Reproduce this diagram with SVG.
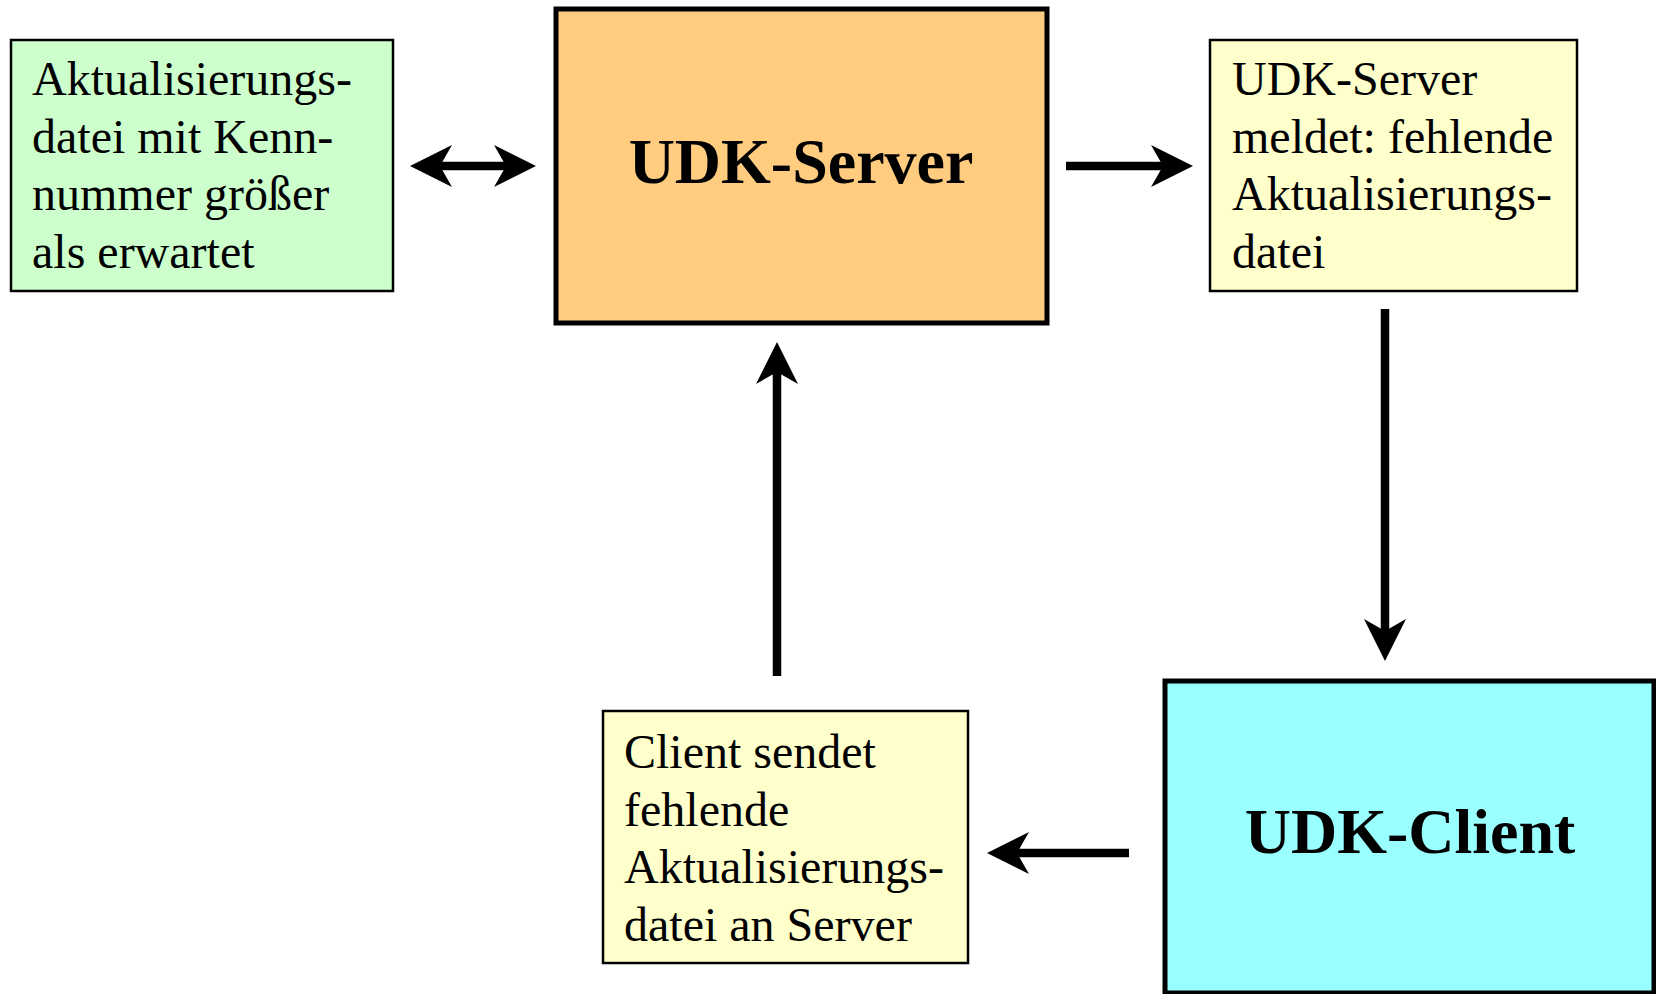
<svg xmlns="http://www.w3.org/2000/svg" width="1656" height="994" viewBox="0 0 1656 994">
<style>
.box{stroke:#000;stroke-width:2.5}
.big{stroke:#000;stroke-width:5}
.t{font-family:"Liberation Serif","Times New Roman",serif;font-size:48px;fill:#000}
.b{font-family:"Liberation Serif","Times New Roman",serif;font-size:64px;font-weight:bold;fill:#000;text-anchor:middle}
.c{stroke:#000;stroke-width:8.5;fill:none}
</style>
<defs>
<marker id="ah" markerUnits="userSpaceOnUse" viewBox="0 -22 42 44" markerWidth="42" markerHeight="44" refX="12" refY="0" orient="auto-start-reverse">
<path d="M0,-21 L42,0 L0,21 L12,0 Z" fill="#000"/>
</marker>
</defs>
<rect width="1656" height="994" fill="#fff"/>
<g id="node-green">
<rect class="box" x="11" y="40" width="382" height="251" fill="#CCFFCC"/>
<text class="t" x="32" y="95">Aktualisierungs-</text>
<text class="t" x="32" y="152.5">datei mit Kenn-</text>
<text class="t" x="32" y="210">nummer größer</text>
<text class="t" x="32" y="267.5">als erwartet</text>
</g>
<g id="node-server">
<rect class="big" x="556" y="9" width="491" height="314" fill="#FFCC80"/>
<text class="b" x="801" y="183">UDK-Server</text>
</g>
<g id="node-meldet">
<rect class="box" x="1210" y="40" width="367" height="251" fill="#FFFFCC"/>
<text class="t" x="1232" y="95">UDK-Server</text>
<text class="t" x="1232" y="152.5">meldet: fehlende</text>
<text class="t" x="1232" y="210">Aktualisierungs-</text>
<text class="t" x="1232" y="267.5">datei</text>
</g>
<g id="node-client">
<rect class="big" x="1165" y="681" width="489" height="312" fill="#99FFFF"/>
<text class="b" x="1410" y="853">UDK-Client</text>
</g>
<g id="node-sendet">
<rect class="box" x="603" y="711" width="365" height="252" fill="#FFFFCC"/>
<text class="t" x="624" y="768">Client sendet</text>
<text class="t" x="624" y="825.5">fehlende</text>
<text class="t" x="624" y="883">Aktualisierungs-</text>
<text class="t" x="624" y="940.5">datei an Server</text>
</g>
<g id="connectors">
<line class="c" x1="440" y1="166" x2="506" y2="166" marker-start="url(#ah)" marker-end="url(#ah)"/>
<line class="c" x1="1066" y1="166" x2="1163" y2="166" marker-end="url(#ah)"/>
<line class="c" x1="1385" y1="309" x2="1385" y2="631" marker-end="url(#ah)"/>
<line class="c" x1="1129" y1="853" x2="1017" y2="853" marker-end="url(#ah)"/>
<line class="c" x1="777" y1="676" x2="777" y2="372" marker-end="url(#ah)"/>
</g>
</svg>
